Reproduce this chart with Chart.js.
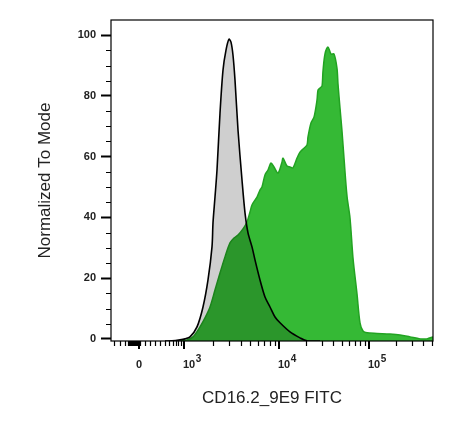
<!DOCTYPE html>
<html>
<head>
<meta charset="utf-8">
<script src="https://cdn.jsdelivr.net/npm/chart.js@4.4.0/dist/chart.umd.min.js"></script>
<style>
html, body { margin: 0; padding: 0; background: #fff; }
</style>
</head>
<body>
<canvas id="myChart" width="473" height="428"></canvas>
<script>
// x is in display channels (0 = left edge of the plot, 322 = right edge)
let controlX = [54, 61, 69, 74, 79, 86, 92, 97, 101, 102, 104, 106, 109, 112, 115, 118, 120, 122, 124, 127,
  131, 134, 137, 141, 144, 149, 154, 159, 164, 169, 179, 189, 196, 209];
let controlY = [-0.7, -0.66, -0.33, 0, 0.66, 3.95, 10.5, 19.4, 30.3, 38.2, 46.7, 55.6, 74.3, 88.5, 95.1, 98.7, 97.7, 93.4, 85.2, 68.8,
  52.3, 41.5, 34.9, 30.3, 26.0, 19.4, 13.8, 10.5, 7.2, 5.3, 2.3, 0.33, -0.66, -0.7];

let stainX = [69, 76, 82, 89, 94, 99, 104, 109, 114, 119, 123, 127, 132, 136, 139, 141, 144, 146, 149, 151,
  154, 157, 160, 163, 167, 171, 172, 176, 179, 182, 186, 189, 193, 196, 197, 200, 203, 206, 207, 209,
  211, 212, 214, 217, 220, 223, 226, 227, 229, 231, 233, 236, 239, 242, 246, 249, 252, 256, 266, 279,
  289, 299, 309, 316, 322];
let stainY = [-0.7, -0.33, 0.66, 3.95, 6.9, 10.5, 16.1, 21.7, 27.0, 31.6, 33.2, 34.2, 36.2, 38.5, 41.8, 44.1, 45.7, 46.7, 49.0, 50.0,
  54.0, 55.6, 57.9, 56.6, 54.6, 58.2, 59.5, 56.9, 56.6, 56.3, 59.5, 61.5, 62.8, 63.8, 66.5, 71.1, 73.0, 78.6, 81.9, 82.6,
  83.2, 88.2, 93.8, 96.1, 93.8, 93.8, 89.1, 83.9, 76.0, 68.4, 59.5, 47.0, 39.8, 26.6, 14.8, 5.3, 2.6, 2.0, 1.8, 1.6,
  1.3, 0.66, 0, 0, 0.66];

let yTicks = [0, 20, 40, 60, 80, 100];
let xTickValues = [28, 73, 168, 258];
let xTickBase = ['0', '10', '10', '10'];
let xTickExp = ['', '3', '4', '5'];

// minor tick positions below 10^3 (logicle zone) and decade widths
let xLowMinor = [3, 9, 14, 17, 18, 19, 20, 21, 22, 23, 24, 25, 26, 27, 29, 34, 39, 44, 49, 54, 58, 61.7, 64.7, 67.3, 69.7];
let decadeWidth = [95, 90, 90];

function toPoints(xs, ys) {
  return xs.map((v, i) => ({ x: v, y: ys[i] }));
}

const axisExtras = {
  id: 'axisExtras',
  afterDraw(chart) {
    const ctx = chart.ctx;
    const a = chart.chartArea;
    const xs = chart.scales.x;
    const ys = chart.scales.y;
    ctx.save();
    ctx.strokeStyle = '#000';
    ctx.lineWidth = 1.2;
    ctx.strokeRect(a.left, a.top, a.right - a.left, a.bottom - a.top);

    // x minor ticks
    let minor = xLowMinor.slice();
    for (let d = 1; d < xTickValues.length; d++) {
      for (let k = 2; k <= 9; k++) {
        let v = xTickValues[d] + Math.log10(k) * decadeWidth[d - 1];
        if (v < xs.max) minor.push(v);
      }
    }
    ctx.lineWidth = 1.2;
    ctx.beginPath();
    minor.forEach(v => {
      const px = Math.round(xs.getPixelForValue(v)) + 0.5;
      ctx.moveTo(px, a.bottom);
      ctx.lineTo(px, a.bottom + 5);
    });
    for (let v = 5; v < 100; v += 5) {
      if (v % 20 === 0) continue;
      const py = Math.round(ys.getPixelForValue(v)) + 0.5;
      ctx.moveTo(a.left - 5, py);
      ctx.lineTo(a.left, py);
    }
    ctx.stroke();

    // x major ticks
    ctx.lineWidth = 2;
    ctx.beginPath();
    xTickValues.forEach(v => {
      const px = Math.round(xs.getPixelForValue(v));
      ctx.moveTo(px, a.bottom);
      ctx.lineTo(px, a.bottom + 8);
    });
    ctx.stroke();

    // x tick labels with superscript exponents
    ctx.fillStyle = '#222';
    ctx.textBaseline = 'alphabetic';
    xTickValues.forEach((v, i) => {
      const px = xs.getPixelForValue(v);
      ctx.font = 'bold 11px "Liberation Sans", Arial, sans-serif';
      if (xTickExp[i] === '') {
        ctx.textAlign = 'center';
        ctx.fillText(xTickBase[i], px, a.bottom + 27);
      } else {
        ctx.textAlign = 'left';
        ctx.fillText(xTickBase[i], px - 1, a.bottom + 27);
        const w = ctx.measureText(xTickBase[i]).width;
        ctx.font = 'bold 10px "Liberation Sans", Arial, sans-serif';
        ctx.fillText(xTickExp[i], px - 0.5 + w, a.bottom + 21);
      }
    });
    ctx.restore();
  }
};

var chart = document.getElementById('myChart').getContext('2d');
var myChart = new Chart(chart, {
  type: 'line',
  data: {
    datasets: [
      {
        label: 'Control',
        data: toPoints(controlX, controlY),
        borderColor: '#000000',
        borderWidth: 1.6,
        backgroundColor: 'rgba(0, 0, 0, 0.19)',
        fill: 'start',
        pointRadius: 0,
        tension: 0.3,
      },
      {
        label: 'CD16.2_9E9 FITC',
        data: toPoints(stainX, stainY),
        borderColor: '#22a322',
        borderWidth: 1.5,
        backgroundColor: '#35b935',
        fill: 'start',
        pointRadius: 0,
        tension: 0.3,
      },
    ],
  },
  options: {
    responsive: false,
    animation: false,
    layout: { padding: { left: 0, top: 20, right: 40, bottom: 0 } },
    plugins: {
      legend: { display: false },
      tooltip: { enabled: false },
    },
    scales: {
      x: {
        type: 'linear',
        min: 0,
        max: 322,
        grid: { display: false },
        border: { display: false },
        ticks: { display: false },
        title: {
          display: true,
          text: 'CD16.2_9E9 FITC',
          color: '#222',
          font: { family: '"Liberation Sans", Arial, sans-serif', size: 17 },
          padding: { top: 0, bottom: 19 },
        },
        afterFit: (scale) => { scale.height = 87; },
      },
      y: {
        min: -0.7,
        max: 105,
        afterBuildTicks: (scale) => { scale.ticks = yTicks.map(v => ({ value: v })); },
        grid: {
          drawOnChartArea: false,
          drawTicks: true,
          tickLength: 10,
          tickWidth: 2,
          tickColor: '#000',
        },
        border: { display: false },
        ticks: {
          color: '#222',
          padding: 5,
          font: { family: '"Liberation Sans", Arial, sans-serif', size: 11, weight: 'bold' },
        },
        title: {
          display: true,
          text: 'Normalized To Mode',
          color: '#222',
          font: { family: '"Liberation Sans", Arial, sans-serif', size: 17 },
          padding: { top: 35, bottom: 0 },
        },
        afterFit: (scale) => { scale.width = 111; },
      },
    },
  },
  plugins: [axisExtras],
});
</script>
</body>
</html>
